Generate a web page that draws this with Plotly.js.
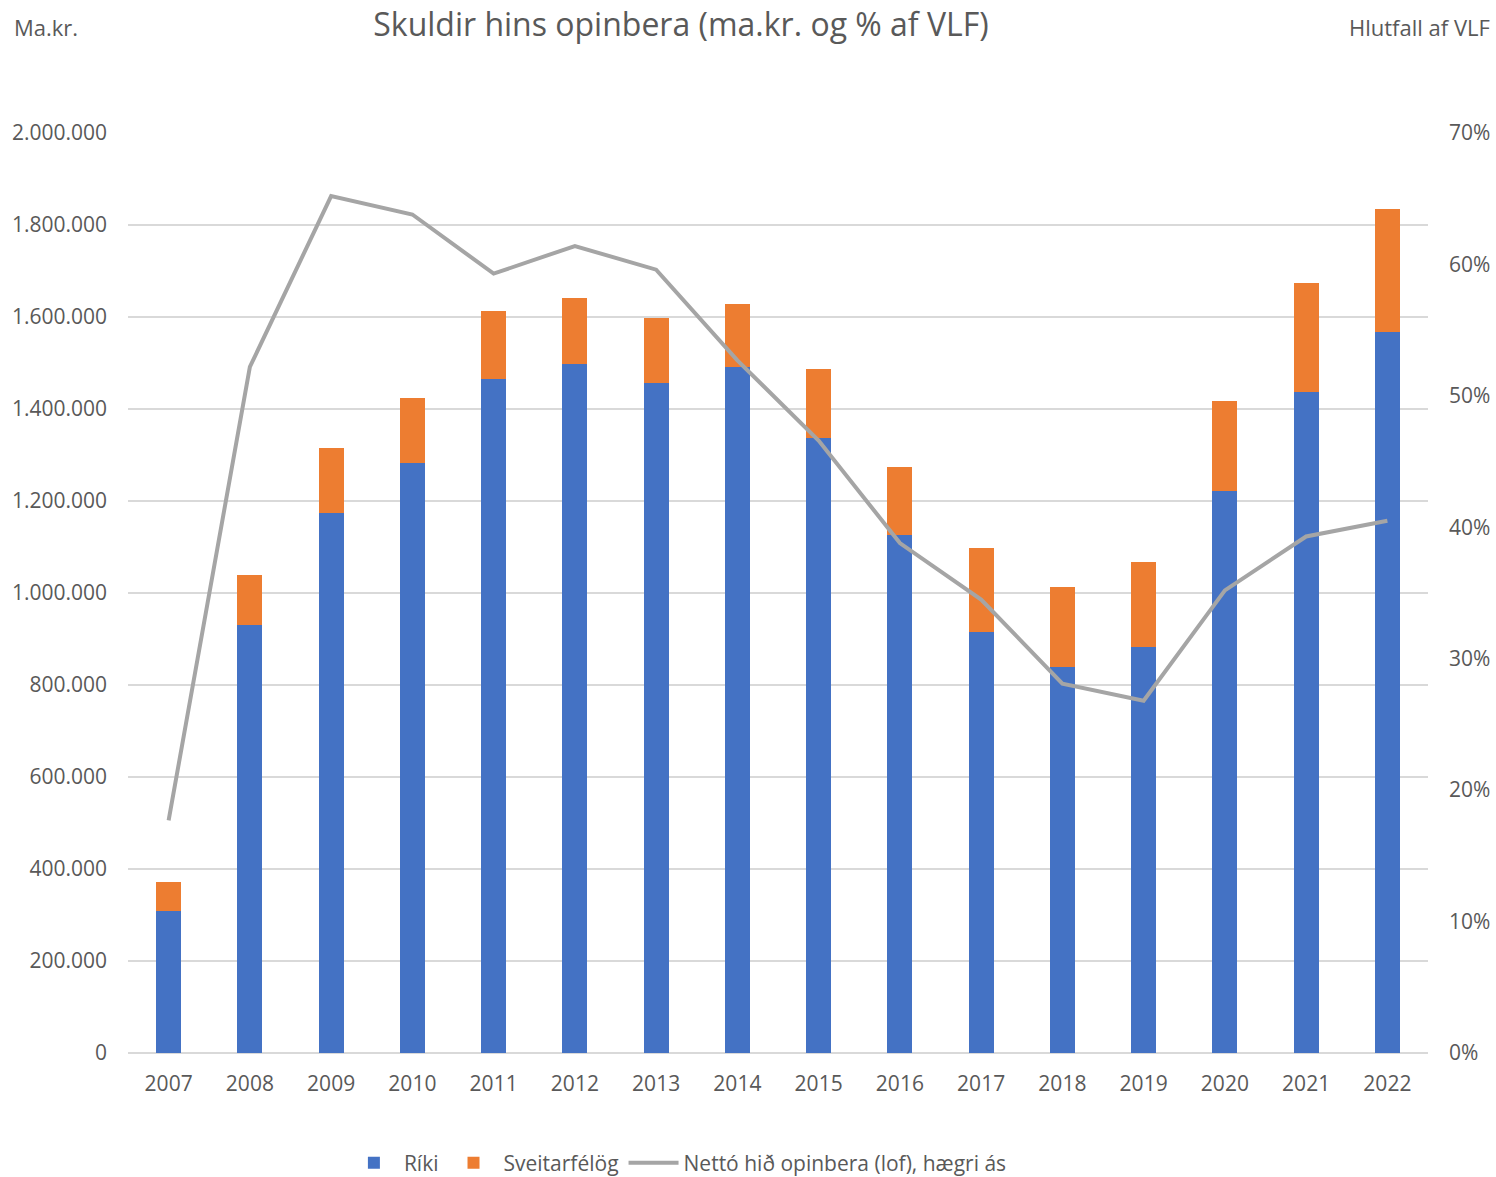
<!DOCTYPE html>
<html>
<head>
<meta charset="utf-8">
<script src="https://cdn.plot.ly/plotly-3.0.1.min.js"></script>
<style>html,body{margin:0;padding:0;background:#fff;}#chart{width:1496px;height:1177px;}</style>
</head>
<body>
<div id="chart"></div>
<script>
const years = ["2007","2008","2009","2010","2011","2012","2013","2014","2015","2016","2017","2018","2019","2020","2021","2022"];
const riki = [309000, 930000, 1174000, 1283000, 1465000, 1498000, 1456000, 1491000, 1337000, 1126000, 915000, 839000, 883000, 1222000, 1437000, 1567000];
const sveitarfelog = [63000, 109000, 141000, 141000, 148000, 143000, 142000, 137000, 150000, 148000, 183000, 174000, 185000, 196000, 237000, 268000];
const netto = [0.177, 0.522, 0.652, 0.638, 0.593, 0.614, 0.596, 0.527, 0.466, 0.388, 0.345, 0.281, 0.268, 0.352, 0.393, 0.405];

const FONT = "'Open Sans', 'Liberation Sans', sans-serif";
const GREY = "#595959";

const data = [
  {type: "bar", name: "Ríki", x: years, y: riki, marker: {color: "#4472c4"}, yaxis: "y"},
  {type: "bar", name: "Sveitarfélög", x: years, y: sveitarfelog, marker: {color: "#ed7d31"}, yaxis: "y"},
  {type: "scatter", mode: "lines", name: "Nettó hið opinbera (lof), hægri ás", x: years, y: netto,
   line: {color: "#a5a5a5", width: 4}, yaxis: "y2"}
];

const layout = {
  width: 1496, height: 1177,
  paper_bgcolor: "#fff", plot_bgcolor: "#fff",
  margin: {l: 128, r: 68, t: 133, b: 124, autoexpand: false},
  separators: ",.",
  barmode: "stack",
  bargap: 0.69,
  font: {family: FONT, color: GREY, size: 21},
  title: {text: "Skuldir hins opinbera (ma.kr. og % af VLF)", x: 0.4552, xanchor: "center", y: 0.979, yanchor: "middle", yref: "container",
          font: {family: FONT, size: 32, color: GREY}},
  xaxis: {type: "category", showgrid: false, showline: false, zeroline: false, ticks: "",
          tickfont: {family: FONT, size: 21, color: GREY}, ticklabelstandoff: 16},
  yaxis: {range: [0, 2000000], dtick: 200000, tickformat: ",d", showgrid: true, gridcolor: "#d9d9d9", gridwidth: 1.5,
          zeroline: true, zerolinecolor: "#d9d9d9", zerolinewidth: 1.5, showline: false, ticks: "",
          tickfont: {family: FONT, size: 21, color: GREY}, ticklabelstandoff: 20},
  yaxis2: {range: [0, 0.7], dtick: 0.1, tickformat: ".0%", overlaying: "y", side: "right", showgrid: false, zeroline: false,
           showline: false, ticks: "", tickfont: {family: FONT, size: 21, color: GREY}, ticklabelstandoff: 20},
  showlegend: true,
  legend: {orientation: "h", x: 0.423, xanchor: "center", y: -0.1196, yanchor: "middle",
           font: {family: FONT, size: 21, color: GREY}, traceorder: "normal", itemwidth: 50},
  annotations: [
    {text: "Ma.kr.", xref: "paper", yref: "paper", x: (12 - 128) / 1300, y: 1 + (133 - 27) / 920, xanchor: "left", yanchor: "middle",
     showarrow: false, font: {family: FONT, size: 22, color: GREY}},
    {text: "Hlutfall af VLF", xref: "paper", yref: "paper", x: (1492 - 128) / 1300, y: 1 + (133 - 27) / 920, xanchor: "right", yanchor: "middle",
     showarrow: false, font: {family: FONT, size: 22, color: GREY}}
  ]
};

Plotly.newPlot("chart", data, layout, {displayModeBar: false, staticPlot: true});
</script>
</body>
</html>
